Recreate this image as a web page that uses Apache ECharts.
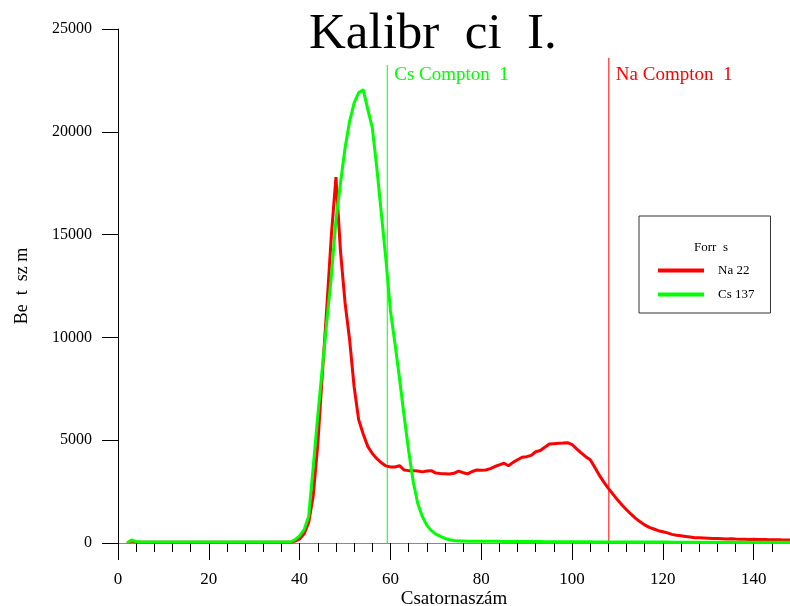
<!DOCTYPE html>
<html>
<head>
<meta charset="utf-8">
<script src="https://cdn.jsdelivr.net/npm/echarts@6/dist/echarts.min.js"></script>
<style>
  html, body { margin: 0; padding: 0; background: #fff; }
  #chart { width: 790px; height: 606px; }
</style>
</head>
<body>
<div id="chart"></div>
<script>
// csatorna 2..148
var naValues = [
  0, 100, 50, 40, 40, 40, 40, 40,
  40, 40, 40, 40, 40, 40, 40, 40, 40, 40,
  40, 40, 40, 40, 40, 40, 40, 40, 40, 40,
  40, 40, 40, 40, 40, 40, 40, 40, 40, 90,
  200, 450, 1000, 2300, 4800, 8200, 11500, 15000, 17800, 14200,
  11700, 9900, 7600, 6000, 5300, 4700, 4350, 4100, 3900, 3750,
  3700, 3700, 3760, 3550, 3520, 3520, 3500, 3460, 3500, 3520,
  3400, 3380, 3370, 3360, 3390, 3500, 3420, 3360, 3480, 3550,
  3540, 3550, 3620, 3720, 3800, 3880, 3760, 3920, 4050, 4170,
  4200, 4260, 4440, 4500, 4660, 4810, 4830, 4850, 4860, 4880,
  4790, 4580, 4380, 4200, 4050, 3680, 3300, 2960, 2660, 2380,
  2100, 1850, 1620, 1400, 1200, 1030, 880, 760, 680, 600,
  550, 490, 420, 380, 350, 320, 290, 260, 250, 240,
  230, 220, 215, 210, 200, 205, 190, 185, 180, 175,
  178, 170, 172, 165, 160, 162, 155, 150, 150
];
var csValues = [
  0, 150, 60, 50, 50, 50, 50, 50,
  50, 50, 50, 50, 50, 50, 50, 50, 50, 50,
  50, 50, 50, 50, 50, 50, 50, 50, 50, 50,
  50, 50, 50, 50, 50, 50, 50, 50, 50, 160,
  350, 650, 1300, 3700, 6200, 8500, 10800, 13000, 15700, 17500,
  19200, 20500, 21400, 21900, 22050, 21100, 20200, 18250, 16020, 13800,
  11300, 9700, 8000, 6200, 4500, 3000, 1930, 1300, 870, 600,
  430, 320, 220, 160, 120, 100, 95, 90, 90, 88,
  85, 85, 82, 80, 80, 78, 78, 75, 75, 72,
  70, 70, 68, 68, 65, 65, 62, 62, 60, 60,
  58, 58, 56, 55, 55, 54, 52, 52, 50, 50,
  50, 48, 48, 47, 46, 46, 45, 45, 44, 44,
  43, 43, 42, 42, 42, 41, 41, 40, 40, 40,
  40, 39, 39, 38, 38, 38, 37, 37, 36, 36,
  36, 35, 35, 35, 34, 34, 33, 33, 33
];
var channels = naValues.map(function (v, i) { return i + 2; });
var seriesNames = ['Na 22', 'Cs 137'];

// Compton-élek: csatorna, vonal teteje, felirat
var comptonX = [108.1, 59.3];
var comptonTop = [23600, 23250];
var comptonText = ['Na Compton  1', 'Cs Compton  1'];
var colors = ['#ff0000', '#00ff00'];

var serif = 'Liberation Serif';

function pairs(vals) {
  return vals.map(function (v, i) { return [channels[i], v]; });
}

function comptonSeries(i) {
  return {
    name: 'compton' + i,
    type: 'line',
    data: [[comptonX[i], 0], [comptonX[i], comptonTop[i]]],
    symbol: 'none',
    silent: true,
    z: 1,
    lineStyle: { color: colors[i], width: 1 },
    markPoint: {
      silent: true,
      symbol: 'circle',
      symbolSize: 0,
      label: {
        show: true, position: 'right', distance: 7,
        formatter: comptonText[i],
        fontFamily: serif, fontSize: 19, color: colors[i]
      },
      data: [{ coord: [comptonX[i], 22760] }]
    }
  };
}

var chart = echarts.init(document.getElementById('chart'), null, { renderer: 'canvas' });

var option = {
  animation: false,
  backgroundColor: '#fff',
  title: [{
    text: 'Kalibr  ci  I.',
    left: 304,
    top: 4,
    textStyle: { fontFamily: serif, fontSize: 51, fontWeight: 'normal', color: '#000' }
  }, {
    text: 'Forr  s',
    left: 689,
    top: 236,
    textStyle: { fontFamily: serif, fontSize: 13, fontWeight: 'normal', color: '#000' }
  }],
  legend: {
    data: seriesNames,
    orient: 'vertical',
    left: 639,
    top: 216,
    padding: [48, 16, 12, 19],
    icon: 'rect',
    itemWidth: 46,
    itemHeight: 4,
    itemGap: 11,
    borderColor: '#333',
    borderWidth: 1,
    textStyle: { fontFamily: serif, fontSize: 13, color: '#000', padding: [0, 0, 0, 9] }
  },
  grid: {
    left: 118,
    right: 0,
    top: 29,
    bottom: 63,
    outerBoundsMode: 'none'
  },
  xAxis: {
    type: 'value',
    min: 0,
    max: 148,
    interval: 20,
    name: 'Csatornaszám',
    nameLocation: 'middle',
    nameGap: 47,
    nameMoveOverlap: false,
    nameTextStyle: { fontFamily: serif, fontSize: 19, color: '#000' },
    axisLine: { show: true, onZero: false, lineStyle: { color: '#888', width: 1 } },
    axisTick: { show: true, length: 17, lineStyle: { color: '#000' } },
    minorTick: { show: true, splitNumber: 5, length: 9, lineStyle: { color: '#000' } },
    axisLabel: { fontFamily: serif, fontSize: 17, color: '#000', margin: 28, showMaxLabel: false },
    splitLine: { show: false }
  },
  yAxis: {
    type: 'value',
    min: 0,
    max: 25000,
    interval: 5000,
    name: 'Be  t  sz m',
    nameLocation: 'middle',
    nameGap: 87,
    nameMoveOverlap: false,
    nameTextStyle: { fontFamily: serif, fontSize: 18, color: '#000' },
    axisLine: { show: true, lineStyle: { color: '#000', width: 1 } },
    axisTick: { show: true, length: 16, lineStyle: { color: '#000' } },
    axisLabel: {
      fontFamily: serif, fontSize: 16, color: '#000', margin: 26,
      formatter: function (v) { return String(v); }
    },
    splitLine: { show: false }
  },
  series: [{
    name: seriesNames[0],
    type: 'line',
    data: pairs(naValues),
    symbol: 'none',
    z: 2,
    lineStyle: { color: colors[0], width: 3 },
    itemStyle: { color: colors[0] }
  }, {
    name: seriesNames[1],
    type: 'line',
    data: pairs(csValues),
    symbol: 'none',
    z: 3,
    lineStyle: { color: colors[1], width: 3 },
    itemStyle: { color: colors[1] }
  }, comptonSeries(0), comptonSeries(1)]
};

chart.setOption(option);
</script>
</body>
</html>
